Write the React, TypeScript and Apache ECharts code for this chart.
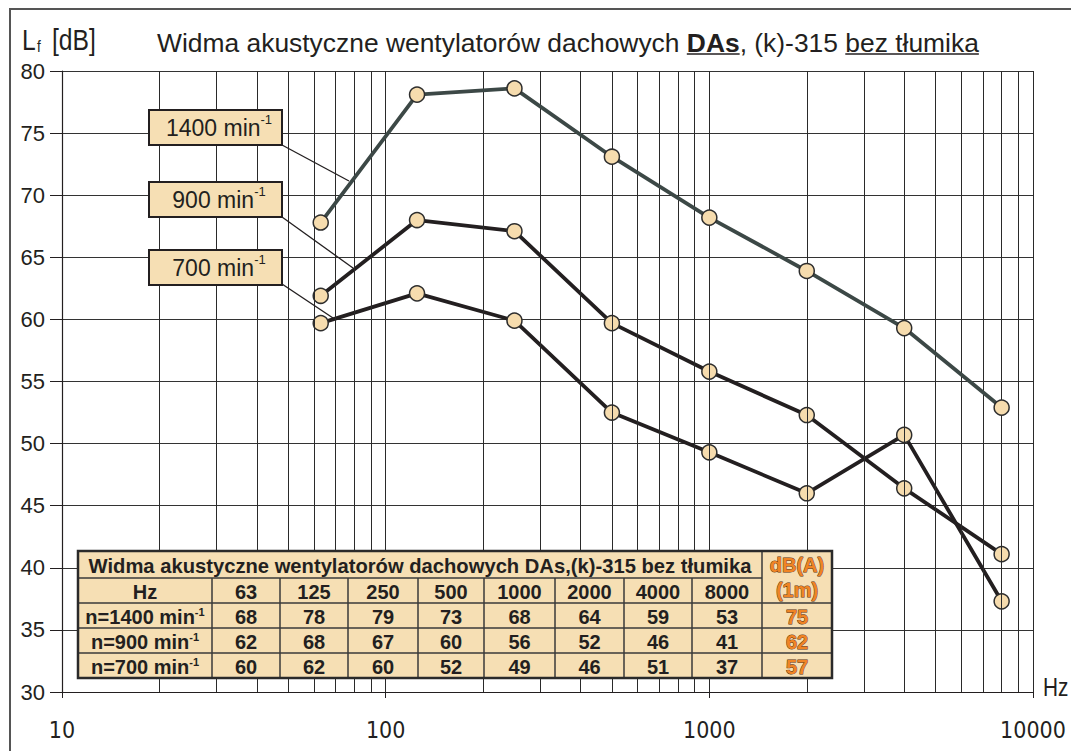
import React, { useEffect, useRef } from 'react';
import * as echarts from 'echarts';

const freqs = [63, 125, 250, 500, 1000, 2000, 4000, 8000];
const freqLabels = ['63', '125', '250', '500', '1000', '2000', '4000', '8000'];
const s1400 = [67.8, 78.1, 78.6, 73.1, 68.2, 63.9, 59.3, 52.9];
const s900 = [61.9, 68.0, 67.1, 59.7, 55.8, 52.3, 46.4, 41.1];
const s700 = [59.7, 62.1, 59.9, 52.5, 49.3, 46.0, 50.7, 37.3];
const table1400 = ['68', '78', '79', '73', '68', '64', '59', '53'];
const table900 = ['62', '68', '67', '60', '56', '52', '46', '41'];
const table700 = ['60', '62', '60', '52', '49', '46', '51', '37'];
const dBA = ['75', '62', '57'];
const rowLabels = ['n=1400 min', 'n=900 min', 'n=700 min'];
const boxLabels = ['1400 min', '900 min', '700 min'];
const xTickValues = [10, 100, 1000, 10000];
const xTickLabels = ['10', '100', '1000', '10000'];
const vGrid = [20, 30, 40, 50, 60, 70, 80, 90, 100, 200, 300, 400, 500, 600, 700, 800, 900, 1000,
  2000, 3000, 4000, 5000, 6000, 7000, 8000, 9000, 10000];
const tableTitle = 'Widma akustyczne wentylatorów dachowych DAs,(k)-315 bez tłumika';

const SANS = "'Liberation Sans', Arial, sans-serif";
const COND = "'DejaVu Sans Condensed', 'Liberation Sans', sans-serif";
const INK = '#231f20';
const TAN = '#f6dfb4';

let cv: HTMLCanvasElement | null = null;
function measure(text: string, font: string): number {
  if (!cv) cv = document.createElement('canvas');
  const ctx = cv.getContext('2d')!;
  ctx.font = font;
  return ctx.measureText(text).width;
}

export default function App() {
  const ref = useRef<HTMLDivElement>(null);
  useEffect(() => {
    const chart = echarts.init(ref.current!, null, { renderer: 'svg' });

    const graphics: any[] = [];
    // outer frame
    graphics.push({ type: 'rect', shape: { x: 10, y: 9, width: 1100, height: 800 }, style: { fill: 'none', stroke: '#555', lineWidth: 2 }, z: 100, silent: true });

    // Lf [dB]
    graphics.push({ type: 'text', x: 22, y: 40, scaleX: 0.85, style: { text: 'L', font: `29px ${SANS}`, fill: INK, align: 'left', verticalAlign: 'middle' }, z: 100 });
    graphics.push({ type: 'text', x: 37, y: 47, scaleX: 0.85, style: { text: 'f', font: `16px ${SANS}`, fill: INK, align: 'left', verticalAlign: 'middle' }, z: 100 });
    graphics.push({ type: 'text', x: 52, y: 40, scaleX: 0.85, style: { text: '[dB]', font: `29px ${SANS}`, fill: INK, align: 'left', verticalAlign: 'middle' }, z: 100 });
    // Hz
    graphics.push({ type: 'text', x: 1043, y: 687, scaleX: 0.8, style: { text: 'Hz', font: `26px ${SANS}`, fill: INK, align: 'left', verticalAlign: 'middle' }, z: 100 });

    // title
    const segs = [
      { t: 'Widma akustyczne wentylatorów dachowych ', b: false, u: false },
      { t: 'DAs', b: true, u: true },
      { t: ', (k)-315 ', b: false, u: false },
      { t: 'bez tłumika', b: false, u: true },
    ];
    const baseFs = 26;
    const tot = segs.reduce((a, s) => a + measure(s.t, `${s.b ? 'bold ' : ''}${baseFs}px 'Liberation Sans'`), 0);
    const fs = baseFs * 822 / tot;
    let tx = 157;
    segs.forEach((s) => {
      const font = `${s.b ? 'bold ' : ''}${fs}px ${SANS}`;
      const w = measure(s.t, `${s.b ? 'bold ' : ''}${fs}px 'Liberation Sans'`);
      graphics.push({ type: 'text', x: tx, y: 43, style: { text: s.t, font, fill: INK, align: 'left', verticalAlign: 'middle' }, z: 100 });
      if (s.u) {
        graphics.push({ type: 'line', shape: { x1: tx, y1: 54, x2: tx + w, y2: 54 }, style: { stroke: INK, lineWidth: 1.5 }, z: 100 });
      }
      tx += w;
    });

    // legend boxes
    const boxY = [110, 182, 250];
    const leaders = [[282, 145, 349, 181], [282, 217, 353, 268], [282, 284, 333, 318]];
    boxLabels.forEach((lab, i) => {
      graphics.push({ type: 'rect', shape: { x: 149, y: boxY[i], width: 133, height: 35 }, style: { fill: TAN, stroke: INK, lineWidth: 2 }, z: 100 });
      graphics.push({
        type: 'text', x: 219, y: boxY[i] + 18,
        style: {
          text: `{a|${lab}}{s|-1}`, align: 'center', verticalAlign: 'middle',
          rich: {
            a: { fontSize: 23, fontFamily: SANS, fill: INK, lineHeight: 30 },
            s: { fontSize: 13, fontFamily: SANS, fill: INK, verticalAlign: 'top' },
          },
        }, z: 101,
      });
      const l = leaders[i];
      graphics.push({ type: 'line', shape: { x1: l[0], y1: l[1], x2: l[2], y2: l[3] }, style: { stroke: INK, lineWidth: 1.3 }, z: 100 });
    });

    // table
    const colX = [78, 212, 280, 348, 418, 484, 555, 624, 692, 762, 832];
    const rowY = [551, 578, 603, 628, 653, 678];
    const left = colX[0], right = colX[10], top = rowY[0], bottom = rowY[5];
    graphics.push({ type: 'rect', shape: { x: left, y: top, width: right - left, height: bottom - top }, style: { fill: TAN, stroke: 'none' }, z: 100 });
    const lineSt = { stroke: '#3a3a3a', lineWidth: 1.5 };
    graphics.push({ type: 'line', shape: { x1: left, y1: rowY[1], x2: colX[9], y2: rowY[1] }, style: lineSt, z: 101 });
    for (let r = 2; r <= 4; r++) {
      graphics.push({ type: 'line', shape: { x1: left, y1: rowY[r], x2: right, y2: rowY[r] }, style: lineSt, z: 101 });
    }
    for (let c = 1; c <= 8; c++) {
      graphics.push({ type: 'line', shape: { x1: colX[c], y1: rowY[1], x2: colX[c], y2: bottom }, style: lineSt, z: 101 });
    }
    graphics.push({ type: 'line', shape: { x1: colX[9], y1: top, x2: colX[9], y2: bottom }, style: lineSt, z: 101 });
    graphics.push({ type: 'rect', shape: { x: left, y: top, width: right - left, height: bottom - top }, style: { fill: 'none', stroke: '#2a2a2a', lineWidth: 2.5 }, z: 102 });

    const tfs0 = 20;
    const tw = measure(tableTitle, `bold ${tfs0}px 'Liberation Sans'`);
    const tfs = tfs0 * 663 / tw;
    const cellText = (text: string, x: number, y: number, color = INK, orange = false) => ({
      type: 'text', x, y,
      style: {
        text, font: `bold 20px ${SANS}`, fill: color, align: 'center', verticalAlign: 'middle',
        ...(orange ? { stroke: '#5a3210', lineWidth: 0.9 } : {}),
      }, z: 103,
    });
    graphics.push({ type: 'text', x: (left + colX[9]) / 2, y: (rowY[0] + rowY[1]) / 2 + 1, style: { text: tableTitle, font: `bold ${tfs}px ${SANS}`, fill: INK, align: 'center', verticalAlign: 'middle' }, z: 103 });
    const ORANGE = '#f08424';
    graphics.push(cellText('dB(A)', (colX[9] + right) / 2, 565, ORANGE, true));
    graphics.push(cellText('(1m)', (colX[9] + right) / 2, 590, ORANGE, true));
    graphics.push(cellText('Hz', (colX[0] + colX[1]) / 2, (rowY[1] + rowY[2]) / 2 + 1));
    freqLabels.forEach((f, i) => graphics.push(cellText(f, (colX[i + 1] + colX[i + 2]) / 2, (rowY[1] + rowY[2]) / 2 + 1)));
    const rows = [table1400, table900, table700];
    rows.forEach((row, r) => {
      const cy = (rowY[r + 2] + rowY[r + 3]) / 2 + 1;
      graphics.push({
        type: 'text', x: (colX[0] + colX[1]) / 2, y: cy,
        style: {
          text: `{a|${rowLabels[r]}}{s|-1}`, align: 'center', verticalAlign: 'middle',
          rich: {
            a: { fontSize: 20, fontWeight: 'bold', fontFamily: SANS, fill: INK },
            s: { fontSize: 11, fontWeight: 'bold', fontFamily: SANS, fill: INK, verticalAlign: 'top' },
          },
        }, z: 103,
      });
      row.forEach((v, i) => graphics.push(cellText(v, (colX[i + 1] + colX[i + 2]) / 2, cy)));
      graphics.push(cellText(dBA[r], (colX[9] + right) / 2, cy, ORANGE, true));
    });

    const mk = (name: string, data: number[], color: string, z: number) => ({
      type: 'line', name, z, silent: true,
      data: freqs.map((f, i) => [f, data[i]]),
      symbol: 'circle', symbolSize: 15,
      lineStyle: { color, width: 3.8 },
      itemStyle: { color: '#f6dcae', borderColor: '#2e2e2e', borderWidth: 1.5 },
      emphasis: { disabled: true },
    });

    const option: any = {
      animation: false,
      backgroundColor: '#fff',
      grid: { left: 62, right: 38, top: 71, bottom: 59, containLabel: false },
      xAxis: {
        type: 'log', logBase: 10, min: 10, max: 10000,
        axisLine: { show: true, lineStyle: { color: INK, width: 1.2 } },
        axisTick: { show: true, length: 6, lineStyle: { color: INK } },
        splitLine: { show: false },
        axisLabel: {
          fontSize: 23, fontFamily: COND, color: INK, margin: 26,
          formatter: (v: number) => {
            const i = xTickValues.findIndex((t) => Math.abs(t - v) / t < 1e-6);
            return i >= 0 ? xTickLabels[i] : '';
          },
        },
      },
      yAxis: {
        type: 'value', min: 30, max: 80, interval: 5,
        axisLine: { show: true, lineStyle: { color: INK, width: 1.2 } },
        axisTick: { show: true, length: 12, lineStyle: { color: INK } },
        splitLine: { show: true, lineStyle: { color: '#333', width: 1 } },
        axisLabel: { fontSize: 22, fontFamily: SANS, color: INK, margin: 17 },
      },
      series: [
        {
          type: 'line', data: [], z: 1, silent: true,
          markLine: {
            silent: true, symbol: ['none', 'none'], label: { show: false }, animation: false,
            lineStyle: { color: '#2a2a2a', width: 1, type: 'solid' },
            emphasis: { disabled: true },
            data: vGrid.map((v) => ({ xAxis: v })),
          },
        },
        mk('700', s700, '#231f20', 3),
        mk('900', s900, '#231f20', 4),
        mk('1400', s1400, '#3c4846', 5),
      ],
      graphic: { elements: graphics },
    };
    chart.setOption(option);
    return () => chart.dispose();
  }, []);
  return <div ref={ref} style={{ position: 'absolute', left: 0, top: 0, width: 1071, height: 751, background: '#fff' }} />;
}
